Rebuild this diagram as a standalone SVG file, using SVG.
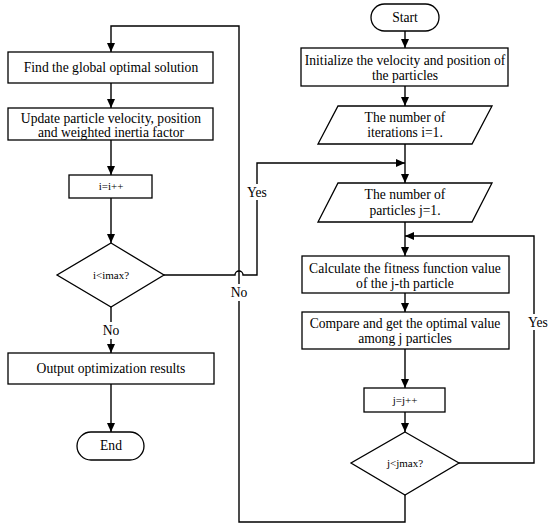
<svg xmlns="http://www.w3.org/2000/svg" width="550" height="528" viewBox="0 0 550 528">
<defs>
<style>
.box{fill:#fff;stroke:#000;stroke-width:1.3}
.ln{fill:none;stroke:#000;stroke-width:1.4}
.t{font-family:"Liberation Serif","Times New Roman",serif;font-size:13.6px;fill:#000;text-anchor:middle}
.s{font-family:"Liberation Serif","Times New Roman",serif;font-size:11px;fill:#000;text-anchor:middle}
</style>
<marker id="ah" markerUnits="userSpaceOnUse" markerWidth="9" markerHeight="8" refX="9" refY="4" orient="auto">
<path d="M0,0 L9,4 L0,8 z" fill="#000"/>
</marker>
</defs>
<rect width="550" height="528" fill="#fff"/>
<g id="connectors">
<path class="ln" d="M405,31 V48" marker-end="url(#ah)"/>
<path class="ln" d="M405,86 V106" marker-end="url(#ah)"/>
<path class="ln" d="M405,144 V183" marker-end="url(#ah)"/>
<path class="ln" d="M405,222 V256" marker-end="url(#ah)"/>
<path class="ln" d="M405,293 V312" marker-end="url(#ah)"/>
<path class="ln" d="M405,349 V388" marker-end="url(#ah)"/>
<path class="ln" d="M405,412 V432" marker-end="url(#ah)"/>
<path class="ln" d="M459,463 H534 V330"/>
<path class="ln" d="M534,314 V236 H405" marker-end="url(#ah)"/>
<path class="ln" d="M405,495 V522 H239 V301"/>
<path class="ln" d="M239,284 V26 H111 V52" marker-end="url(#ah)"/>
<path class="ln" d="M111,83 V108" marker-end="url(#ah)"/>
<path class="ln" d="M111,140 V175" marker-end="url(#ah)"/>
<path class="ln" d="M111,198 V243" marker-end="url(#ah)"/>
<path class="ln" d="M164,275 H235 A4,4 0 0 1 243,275 H257 V200"/>
<path class="ln" d="M257,184 V163 H405" marker-end="url(#ah)"/>
<path class="ln" d="M111,307 V322"/>
<path class="ln" d="M111,339 V353" marker-end="url(#ah)"/>
<path class="ln" d="M111,384 V432" marker-end="url(#ah)"/>
<text class="t" x="257" y="197">Yes</text>
<text class="t" x="239" y="297">No</text>
<text class="t" x="111" y="335">No</text>
<text class="t" x="538" y="327">Yes</text>
</g>
<g id="start">
<rect class="box" x="371" y="4" width="68" height="27" rx="13.5"/>
<text class="t" x="405" y="22">Start</text>
</g>
<g id="init">
<rect class="box" x="301" y="48" width="207" height="38"/>
<text class="t" x="405" y="65">Initialize the velocity and position of</text>
<text class="t" x="405" y="80">the particles</text>
</g>
<g id="iter">
<polygon class="box" points="338,106 492,106 472,144 318,144"/>
<text class="t" x="405" y="122">The number of</text>
<text class="t" x="405" y="137">iterations i=1.</text>
</g>
<g id="part">
<polygon class="box" points="338,183 492,183 472,222 318,222"/>
<text class="t" x="405" y="199">The number of</text>
<text class="t" x="405" y="215">particles j=1.</text>
</g>
<g id="calc">
<rect class="box" x="302" y="256" width="207" height="37"/>
<text class="t" x="405" y="273">Calculate the fitness function value</text>
<text class="t" x="405" y="288">of the j-th particle</text>
</g>
<g id="compare">
<rect class="box" x="302" y="312" width="207" height="37"/>
<text class="t" x="405" y="328">Compare and get the optimal value</text>
<text class="t" x="405" y="343">among j particles</text>
</g>
<g id="jinc">
<rect class="box" x="364" y="388" width="81" height="24"/>
<text class="s" x="405" y="404">j=j++</text>
</g>
<g id="jdec">
<polygon class="box" points="405,432 459,463 405,495 351,463"/>
<text class="s" x="405" y="467">j&lt;jmax?</text>
</g>
<g id="global">
<rect class="box" x="8" y="52" width="205" height="31"/>
<text class="t" x="111" y="72">Find the global optimal solution</text>
</g>
<g id="update">
<rect class="box" x="8" y="108" width="205" height="32"/>
<text class="t" x="111" y="123">Update particle velocity, position</text>
<text class="t" x="111" y="137">and weighted inertia factor</text>
</g>
<g id="iinc">
<rect class="box" x="69" y="175" width="83" height="23"/>
<text class="s" x="111" y="190">i=i++</text>
</g>
<g id="idec">
<polygon class="box" points="111,243 164,275 111,307 57,275"/>
<text class="s" x="111" y="279">i&lt;imax?</text>
</g>
<g id="output">
<rect class="box" x="8" y="353" width="206" height="31"/>
<text class="t" x="111" y="373">Output optimization results</text>
</g>
<g id="end">
<rect class="box" x="77" y="432" width="67" height="28" rx="14"/>
<text class="t" x="111" y="450">End</text>
</g>
</svg>
